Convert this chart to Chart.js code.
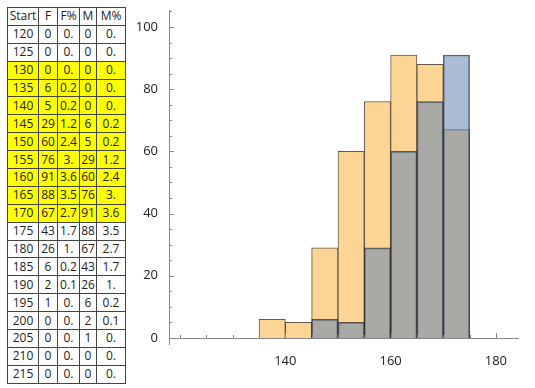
<!DOCTYPE html>
<html>
<head>
<meta charset="utf-8">
<script src="https://cdn.jsdelivr.net/npm/chart.js@4.4.1/dist/chart.umd.min.js"></script>
<style>
    body { margin: 0; width: 535px; height: 388px; background: #fff; position: relative; overflow: hidden; }
    #bins { position: absolute; left: 7px; top: 7px; border-collapse: collapse; table-layout: fixed;
        font-family: "Open Sans", sans-serif; font-size: 12px; color: #222; }
    #bins td { border: 1px solid #444; padding: 0; text-align: center; height: 16.9px; line-height: 14px; }
    #bins tr.hl td { background: #ffff00; }
    #wrap { position: absolute; left: 130px; top: 0; width: 405px; height: 388px; }
</style>
</head>
<body>
<table id="bins"></table>
<div id="wrap"><canvas id="hist" width="405" height="388"></canvas></div>
<script>
const headers = ["Start", "F", "F%", "M", "M%"];
const starts = [120, 125, 130, 135, 140, 145, 150, 155, 160, 165, 170, 175, 180, 185, 190, 195, 200, 205, 210, 215];
const fCounts = [0, 0, 0, 6, 5, 29, 60, 76, 91, 88, 67, 43, 26, 6, 2, 1, 0, 0, 0, 0];
const fPct = ["0.", "0.", "0.", "0.2", "0.2", "1.2", "2.4", "3.", "3.6", "3.5", "2.7", "1.7", "1.", "0.2", "0.1", "0.", "0.", "0.", "0.", "0."];
const mCounts = [0, 0, 0, 0, 0, 6, 5, 29, 60, 76, 91, 88, 67, 43, 26, 6, 2, 1, 0, 0];
const mPct = ["0.", "0.", "0.", "0.", "0.", "0.2", "0.2", "1.2", "2.4", "3.", "3.6", "3.5", "2.7", "1.7", "1.", "0.2", "0.1", "0.", "0.", "0."];
const hlFrom = 130, hlTo = 170, binWidth = 5;
const xTicksLabeled = [140, 160, 180];
const yTicksLabeled = [0, 20, 40, 60, 80, 100];

// table
const colWidths = [31, 19, 22, 17, 29];
const table = document.getElementById("bins");
const cg = document.createElement("colgroup");
colWidths.forEach(w => { const c = document.createElement("col"); c.style.width = w + "px"; cg.appendChild(c); });
table.appendChild(cg);
const addRow = (cells, hl) => {
    const tr = document.createElement("tr");
    if (hl) tr.className = "hl";
    cells.forEach(v => { const td = document.createElement("td"); td.textContent = v; tr.appendChild(td); });
    table.appendChild(tr);
};
addRow(headers, false);
starts.forEach((s, i) => addRow([s, fCounts[i], fPct[i], mCounts[i], mPct[i]], s >= hlFrom && s <= hlTo));

// histogram data from highlighted rows
const toBars = counts => starts
    .map((s, i) => ({ x: s + binWidth / 2, y: counts[i], s }))
    .filter(p => p.s >= hlFrom && p.s <= hlTo && p.y > 0);

// mathematica-style ticks pointing into the plot, y axis running a bit past the x axis
const inwardTicks = {
    id: "inwardTicks",
    afterDraw(c) {
        const ctx = c.ctx, xs = c.scales.x, ys = c.scales.y, a = c.chartArea;
        ctx.save();
        ctx.strokeStyle = "#888";
        ctx.lineWidth = 1;
        ctx.beginPath();
        xs.ticks.forEach(t => {
            const px = Math.round(xs.getPixelForValue(t.value)) + 0.5;
            const len = xTicksLabeled.includes(t.value) ? 5 : 3;
            ctx.moveTo(px, a.bottom); ctx.lineTo(px, a.bottom - len);
        });
        ys.ticks.forEach(t => {
            const py = Math.round(ys.getPixelForValue(t.value)) + 0.5;
            const len = yTicksLabeled.includes(t.value) ? 5 : 3;
            ctx.moveTo(a.left, py); ctx.lineTo(a.left + len, py);
        });
        const lx = Math.round(a.left) + 0.5;
        ctx.moveTo(lx, a.bottom); ctx.lineTo(lx, a.bottom + 7);
        ctx.stroke();
        ctx.restore();
    }
};

const font = { family: "'Open Sans', sans-serif", size: 13 };
new Chart(document.getElementById("hist"), {
    type: "bar",
    data: {
        datasets: [
            { label: "M", data: toBars(mCounts), backgroundColor: "rgba(100, 133, 180, 0.55)",
              borderColor: "rgba(40, 40, 40, 0.75)", borderWidth: 1, order: 1 },
            { label: "F", data: toBars(fCounts), backgroundColor: "#fcd595",
              borderColor: "rgba(60, 50, 30, 0.8)", borderWidth: 1, order: 2 }
        ]
    },
    options: {
        responsive: false,
        animation: false,
        devicePixelRatio: 1,
        layout: { padding: { top: 8, right: 17, bottom: 20, left: 0 } },
        datasets: { bar: { grouped: false, barPercentage: 1, categoryPercentage: 1 } },
        plugins: { legend: { display: false }, tooltip: { enabled: false } },
        scales: {
            x: {
                type: "linear", min: 117.9, max: 184.2, offset: false,
                grid: { display: false },
                border: { color: "#888", width: 1 },
                ticks: { stepSize: 5, includeBounds: false, autoSkip: false, maxRotation: 0, padding: 7,
                    color: "#222", font, callback: v => xTicksLabeled.includes(v) ? String(v) : "" },
                afterFit: s => { s.height = 30; }
            },
            y: {
                min: 0, max: 105.2,
                grid: { display: false },
                border: { color: "#888", width: 1 },
                ticks: { stepSize: 5, includeBounds: false, autoSkip: false, padding: 3,
                    color: "#222", font, callback: v => yTicksLabeled.includes(v) ? String(v) : "" },
                afterFit: s => { s.width = 39; }
            }
        }
    },
    plugins: [inwardTicks]
});
</script>
</body>
</html>
